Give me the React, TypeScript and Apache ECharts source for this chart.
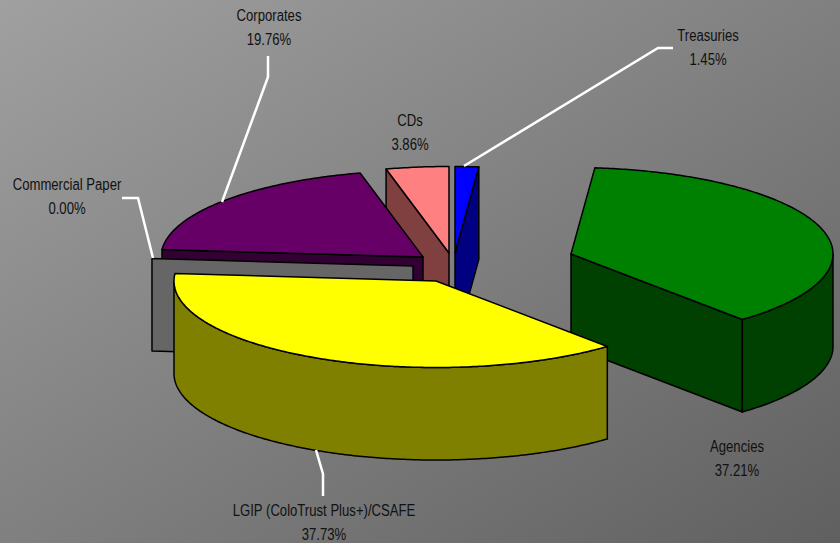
import React, { useEffect, useRef } from "react";
import * as echarts from "echarts";

const categories = ["Treasuries", "Agencies", "LGIP (ColoTrust Plus+)/CSAFE", "Commercial Paper", "Corporates", "CDs"];
const seriesValues = [1.45, 37.21, 37.73, 0.0, 19.76, 3.86];

const topColors = ["#0000ff", "#008000", "#ffff00", "#666666", "#660066", "#ff8080"];
const sideColors = ["#000080", "#004000", "#808000", "#666666", "#330033", "#804040"];
const layerOf = [0, 2, 5, 4, 3, 1];

const RX = 262;
const RY = 86.5;
const DEPTH = 92.5;
const apexes = [
  [455, 253],
  [571, 254],
  [436, 281],
  [413, 266],
  [423, 257],
  [449, 253],
];
const labelAnchors = [
  [708, 48],
  [737, 459],
  [324, 523],
  [67, 197],
  [269, 28],
  [410, 133],
];
const leaders = [
  [[673, 48], [658, 48], [464, 166]],
  [],
  [[316, 450], [323, 474], [323, 496]],
  [[122, 198], [138, 198], [153, 258]],
  [[268, 56], [268, 77], [222, 202]],
  [],
];

const total = seriesValues.reduce((a, b) => a + b, 0);

function rimPoint(ax: number, ay: number, deg: number, dz = 0) {
  const t = (deg * Math.PI) / 180;
  return [ax + RX * Math.sin(t), ay - RY * Math.cos(t) + dz];
}

function arc(ax: number, ay: number, from: number, to: number, dz = 0) {
  const n = Math.max(2, Math.ceil(Math.abs(to - from) * 1.5));
  const pts: number[][] = [];
  for (let i = 0; i <= n; i++) pts.push(rimPoint(ax, ay, from + ((to - from) * i) / n, dz));
  return pts;
}

const renderItem = (params: any, api: any) => {
  const i = params.dataIndex;
  const value = api.value(0);
  let before = 0;
  for (let k = 0; k < i; k++) before += seriesValues[k];
  const a0 = (before / total) * 360;
  const a1 = a0 + (value / total) * 360;
  const [ax, ay] = apexes[i];
  const z = layerOf[i] * 10;
  const stroke = { stroke: "#000000", lineWidth: 1.5, lineJoin: "round" };
  const children: any[] = [];

  const cutFace = (deg: number) => {
    const p = rimPoint(ax, ay, deg);
    children.push({
      type: "polygon",
      z2: z + 1,
      shape: { points: [[ax, ay], p, [p[0], p[1] + DEPTH], [ax, ay + DEPTH]] },
      style: { fill: sideColors[i], ...stroke },
    });
  };

  if (Math.sin((a0 * Math.PI) / 180) < 0) cutFace(a0);
  if (Math.sin((a1 * Math.PI) / 180) > 0) cutFace(a1);

  const r0 = Math.max(a0, 90);
  const r1 = Math.min(a1, 270);
  if (r1 > r0) {
    const upper = arc(ax, ay, r0, r1);
    const lower = arc(ax, ay, r1, r0, DEPTH);
    children.push({
      type: "polygon",
      z2: z + 2,
      shape: { points: [...upper, ...lower] },
      style: { fill: sideColors[i], ...stroke },
    });
  }

  if (a1 > a0) {
    children.push({
      type: "polygon",
      z2: z + 3,
      shape: { points: [[ax, ay], ...arc(ax, ay, a0, a1)] },
      style: { fill: topColors[i], ...stroke },
    });
  }

  if (leaders[i].length) {
    children.push({
      type: "polyline",
      z2: 100,
      shape: { points: leaders[i] },
      style: { stroke: "#ffffff", lineWidth: 2.5, fill: null },
    });
  }

  children.push({
    type: "text",
    z2: 110,
    x: labelAnchors[i][0],
    y: labelAnchors[i][1],
    scaleX: 0.82,
    style: {
      x: 0,
      y: 0,
      text: `${categories[i]}\n${value.toFixed(2)}%`,
      align: "center",
      verticalAlign: "middle",
      fontFamily: '"Liberation Sans", sans-serif',
      fontSize: 16,
      lineHeight: 24,
      fill: "#111111",
    },
  });

  return { type: "group", children };
};

export default function App() {
  const ref = useRef<HTMLDivElement>(null);
  useEffect(() => {
    document.body.style.margin = "0";
    const chart = echarts.init(ref.current!, undefined, { renderer: "svg" });
    chart.setOption({
      animation: false,
      backgroundColor: new echarts.graphic.LinearGradient(0, 0, 1, 1, [
        { offset: 0, color: "#a0a0a0" },
        { offset: 1, color: "#606060" },
      ]),
      series: [
        {
          type: "custom",
          coordinateSystem: "none",
          renderItem,
          clip: false,
          data: seriesValues.map((v, i) => ({ name: categories[i], value: [v] })),
        },
      ],
    });
    return () => chart.dispose();
  }, []);
  return <div ref={ref} style={{ width: 840, height: 543 }} />;
}
